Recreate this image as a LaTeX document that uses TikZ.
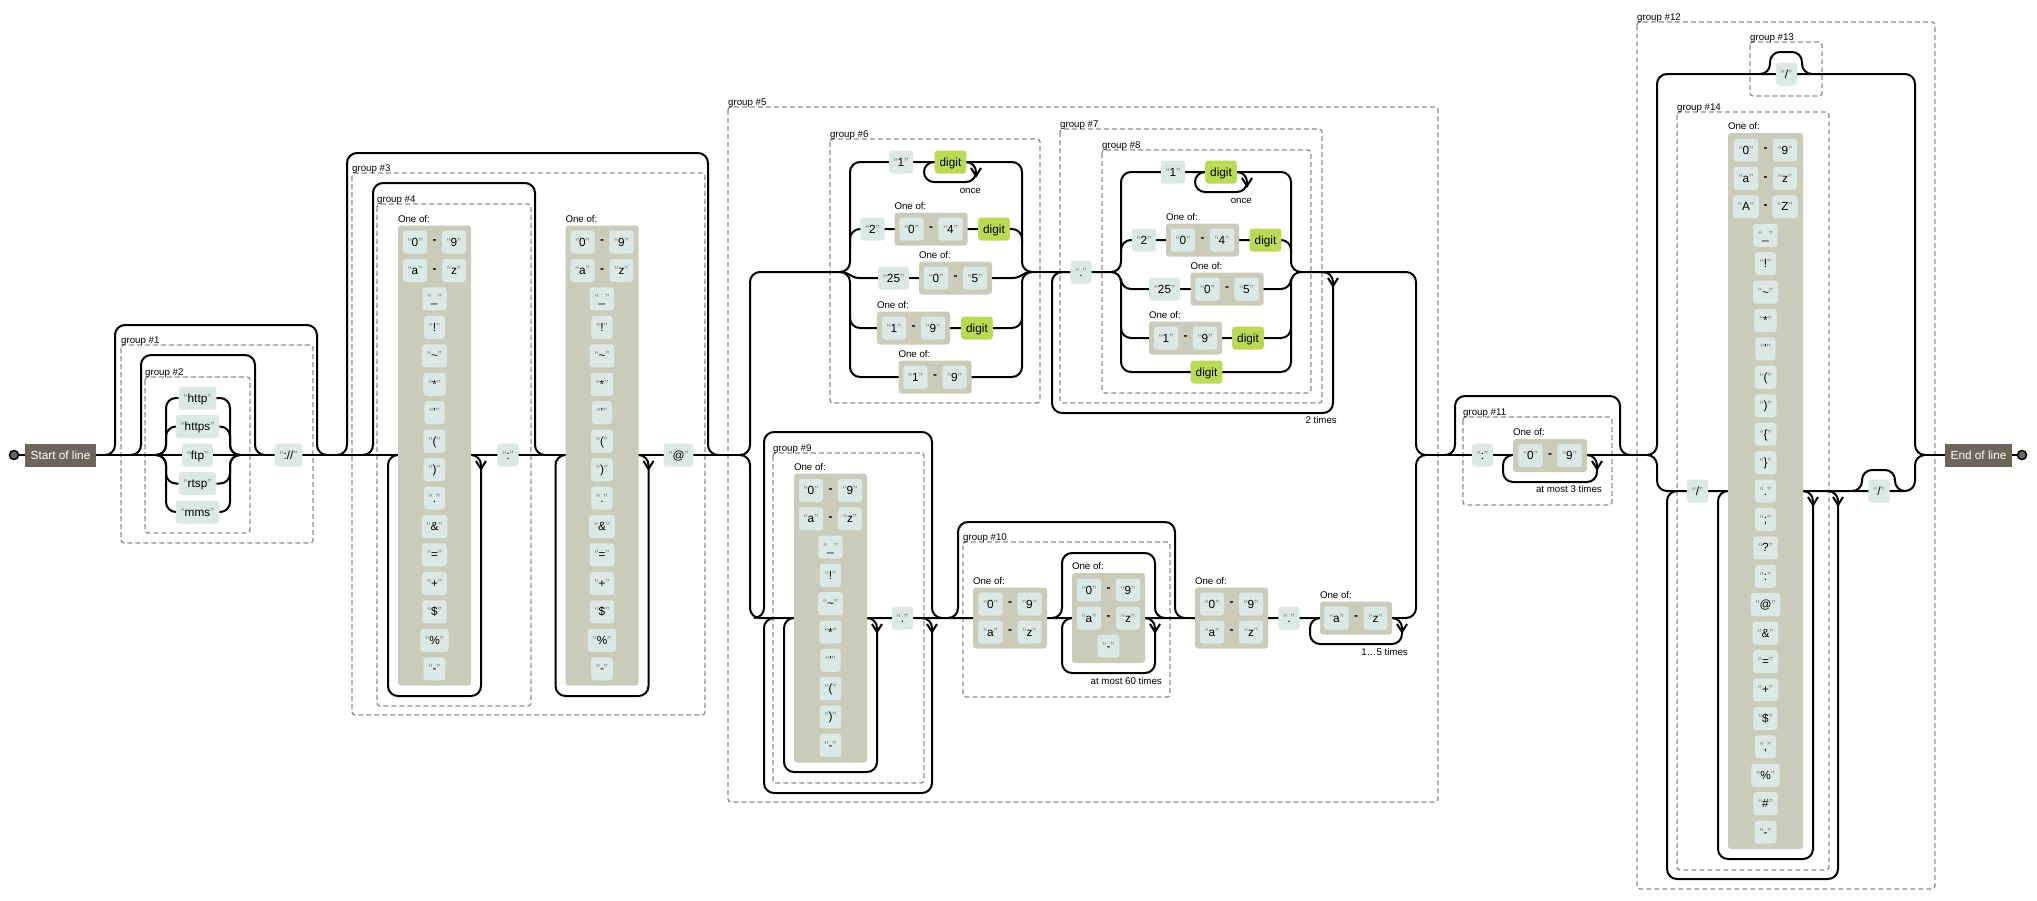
\documentclass[tikz,border=0pt]{standalone}
\usepackage{fontspec}
\setmainfont{Liberation Sans}
\definecolor{litc}{HTML}{DAE9E5}
\definecolor{csetc}{HTML}{CBCBBA}
\definecolor{escc}{HTML}{BADA55}
\definecolor{anchc}{HTML}{6B6659}
\definecolor{grpc}{HTML}{908C83}
\definecolor{quotec}{HTML}{908C83}
\pgfdeclarelayer{paper}
\pgfdeclarelayer{groups}
\pgfdeclarelayer{rails}
\pgfsetlayers{paper,groups,rails,main}
\newcommand\q[1]{{\color{quotec}“}#1{\color{quotec}”}}
\newcommand\rfont{\fontsize{11.8}{13}\selectfont}
\newcommand\sfont{\fontsize{9.7}{11}\selectfont}
\tikzset{
  rail/.style={line width=2pt, rounded corners=10pt},
  grp/.style={draw=grpc, line width=1.3pt, dash pattern=on 5pt off 3pt, rounded corners=3pt},
  glab/.style={anchor=base west, inner sep=0pt, font=\sfont},
  llab/.style={anchor=base east, inner sep=0pt, font=\sfont},
  boxbase/.style={rounded corners=3pt, minimum height=23pt, inner xsep=5pt, inner ysep=0pt, text height=8.5pt, text depth=0.5pt, font=\rfont},
  lit/.style={boxbase, fill=litc},
  esc/.style={boxbase, fill=escc},
  anc/.style={boxbase, fill=anchc, text=white, rounded corners=0pt, inner xsep=6pt},
  csetbox/.style={fill=csetc, rounded corners=3pt, inner sep=0pt},
  hyph/.style={inner sep=0pt, font=\rfont\bfseries},
  term/.style={circle, draw=black, line width=1.5pt, fill=anchc, minimum size=9pt, inner sep=0pt},
  chev/.style={line width=2pt},
}
\newcommand\csbox[5]{%
  \node[csetbox, minimum width=#4pt, minimum height=#5pt] (#1) at (#2,#3) {};
  \path (#1.north west) ++(0,-3) node[glab] {One of:};}
\newcommand\rng[5]{%
  \node[lit] (#1a) at ({#2-19.5},#3) {\q{#4}};
  \node[hyph] (#1m) at (#2,#3) {-};
  \node[lit] (#1b) at ({#2+19.5},#3) {\q{#5}};}
\newcommand\darr[2]{\draw[chev] ({#1-5},{#2-8}) -- (#1,#2) -- ({#1+5},{#2-8});}
\begin{document}
\begin{tikzpicture}[x=1pt,y=-1pt]
\begin{pgfonlayer}{paper}
\fill[white] (0,0) rectangle (2037,900);
\end{pgfonlayer}
\useasboundingbox (0,0) rectangle (2037,900);

% ---------------- group boxes
\begin{pgfonlayer}{groups}
\draw[grp] (121,345) rectangle (313,543);
\draw[grp] (145,377) rectangle (250,533);
\draw[grp] (352,173) rectangle (705,715);
\draw[grp] (377,204) rectangle (531,706);
\draw[grp] (728,107) rectangle (1438,802);
\draw[grp] (830,139) rectangle (1040,403);
\draw[grp] (1060,129) rectangle (1322,403);
\draw[grp] (1102,150) rectangle (1311,393);
\draw[grp] (773,453) rectangle (924,783);
\draw[grp] (963,542) rectangle (1170,697);
\draw[grp] (1463,417) rectangle (1612,505);
\draw[grp] (1637,22) rectangle (1935,889);
\draw[grp] (1750,42) rectangle (1822,96);
\draw[grp] (1677,112) rectangle (1829,870);
\end{pgfonlayer}
\node[glab] at (121,343) {group \#1};
\node[glab] at (145,375) {group \#2};
\node[glab] at (352,171) {group \#3};
\node[glab] at (377,202) {group \#4};
\node[glab] at (728,105) {group \#5};
\node[glab] at (830,137) {group \#6};
\node[glab] at (1060,127) {group \#7};
\node[glab] at (1102,148) {group \#8};
\node[glab] at (773,451) {group \#9};
\node[glab] at (963,540) {group \#10};
\node[glab] at (1463,415) {group \#11};
\node[glab] at (1637,20) {group \#12};
\node[glab] at (1750,40) {group \#13};
\node[glab] at (1677,110) {group \#14};

% ---------------- start / end
\node[term] (sc) at (14,455) {};
\node[anc] (start) at (60.5,455) {Start of line};
\node[anc] (endl) at (1978.5,455) {End of line};
\node[term] (ec) at (2022,455) {};

% ---------------- groups 1,2
\node[lit] (http) at (197.5,398) {\q{http}};
\node[lit] (https) at (197.5,426.5) {\q{https}};
\node[lit] (ftp) at (197.5,455) {\q{ftp}};
\node[lit] (rtsp) at (197.5,483.5) {\q{rtsp}};
\node[lit] (mms) at (197.5,512) {\q{mms}};
\node[lit] (proto) at (288.5,455) {\q{://}};

% ---------------- groups 3,4
\csbox{csa}{434.5}{455.5}{73}{460}
\csbox{csb}{602}{455.5}{73}{460}
\rng{csar0}{434.5}{242}{0}{9}
\rng{csar1}{434.5}{270.45}{a}{z}
\rng{csbr0}{602}{242}{0}{9}
\rng{csbr1}{602}{270.45}{a}{z}
\foreach \itm [count=\i from 2] in {{\_},{!},{\textasciitilde},{*},{\textquotesingle},{(},{)},{.},{\&},{=},{+},{\$},{\%},{-}}{
  \node[lit] (csai\i) at (434.5,{242+28.45*\i}) {\q{\itm}};
  \node[lit] (csbi\i) at (602,{242+28.45*\i}) {\q{\itm}};
}
\node[lit] (colon1) at (508,455) {\q{:}};
\node[lit] (at) at (678.5,455) {\q{@}};

% ---------------- group 6
\node[lit] (g6one) at (901,162) {\q{1}};
\node[esc] (g6d1) at (950.5,162) {digit};
\node[lit] (g6two) at (872.5,229) {\q{2}};
\csbox{g6c2}{931}{229}{73}{33}
\rng{g6r2}{931}{229}{0}{4}
\node[esc] (g6d2) at (994,229) {digit};
\node[lit] (g6tf) at (893.5,278) {\q{25}};
\csbox{g6c3}{955.5}{278}{73}{33}
\rng{g6r3}{955.5}{278}{0}{5}
\csbox{g6c4}{913.5}{328}{73}{33}
\rng{g6r4}{913.5}{328}{1}{9}
\node[esc] (g6d4) at (977,328) {digit};
\csbox{g6c5}{935}{377}{73}{33}
\rng{g6r5}{935}{377}{1}{9}
\node[llab] at (981,193) {once};

% ---------------- groups 7,8
\node[lit] (dot1) at (1081,272) {\q{.}};
\node[lit] (g8one) at (1173,172) {\q{1}};
\node[esc] (g8d1) at (1221,172) {digit};
\node[lit] (g8two) at (1144,240) {\q{2}};
\csbox{g8c2}{1202.5}{240}{73}{33}
\rng{g8r2}{1202.5}{240}{0}{4}
\node[esc] (g8d2) at (1265.5,240) {digit};
\node[lit] (g8tf) at (1164.5,289) {\q{25}};
\csbox{g8c3}{1227}{289}{73}{33}
\rng{g8r3}{1227}{289}{0}{5}
\csbox{g8c4}{1185.5}{338}{73}{33}
\rng{g8r4}{1185.5}{338}{1}{9}
\node[esc] (g8d4) at (1248,338) {digit};
\node[esc] (g8d5) at (1206.5,372) {digit};
\node[llab] at (1252,203) {once};
\node[llab] at (1337,423) {2 times};

% ---------------- group 9
\csbox{g9c}{830.5}{618}{73}{289}
\rng{g9r0}{830.5}{490.5}{0}{9}
\rng{g9r1}{830.5}{518.8}{a}{z}
\foreach \itm [count=\i from 2] in {{\_},{!},{\textasciitilde},{*},{\textquotesingle},{(},{)},{-}}{
  \node[lit] (g9i\i) at (830.5,{490.5+28.3*\i}) {\q{\itm}};
}
\node[lit] (dot2) at (902.5,618) {\q{.}};

% ---------------- group 10 and rest of host
\csbox{g10c1}{1010}{618}{74}{61}
\rng{g10r1}{1010}{604}{0}{9}
\rng{g10r2}{1010}{632}{a}{z}
\csbox{g10c2}{1108.5}{618}{73}{90}
\rng{g10r3}{1108.5}{590}{0}{9}
\rng{g10r4}{1108.5}{618}{a}{z}
\node[lit] (g10hy) at (1108.5,646) {\q{-}};
\node[llab] at (1162,684) {at most 60 times};
\csbox{hc3}{1231.5}{618}{73}{61}
\rng{hr1}{1231.5}{604}{0}{9}
\rng{hr2}{1231.5}{632}{a}{z}
\node[lit] (dot3) at (1289,618) {\q{.}};
\csbox{hc4}{1356}{618}{72}{33}
\rng{hr3}{1356}{618}{a}{z}
\node[llab] at (1408,655) {1…5 times};

% ---------------- group 11
\node[lit] (colon2) at (1482.5,455) {\q{:}};
\csbox{g11c}{1550}{455.5}{74}{33}
\rng{g11r}{1550}{455.5}{0}{9}
\node[llab] at (1602,492) {at most 3 times};

% ---------------- groups 12,13,14
\node[lit] (sl1) at (1786.5,74) {\q{/}};
\node[lit] (sl2) at (1697.5,491) {\q{/}};
\csbox{g14c}{1765.5}{491}{75}{716}
\rng{g14r0}{1765.5}{150}{0}{9}
\rng{g14r1}{1765.5}{178.42}{a}{z}
\rng{g14r2}{1765.5}{206.84}{A}{Z}
\foreach \itm [count=\i from 3] in {{\_},{!},{\textasciitilde},{*},{\textquotesingle},{(},{)},{\{},{\}},{.},{;},{?},{:},{@},{\&},{=},{+},{\$},{,},{\%},{\#},{-}}{
  \node[lit] (g14i\i) at (1765.5,{150+28.42*\i}) {\q{\itm}};
}
\node[lit] (sl3) at (1879,491) {\q{/}};

% ---------------- rails
\begin{pgfonlayer}{rails}
\draw[rail] (sc.east) -- (740,455);
\draw[rail] (105,455) -- (115,455) -- (115,325) -- (317,325) -- (317,455) -- (327,455);
\draw[rail] (131,455) -- (141,455) -- (141,355) -- (255,355) -- (255,455) -- (265,455);
\foreach \n in {http,https,rtsp,mms}{
  \draw[rail] (156,455) -- (166,455) |- (\n.west);
  \draw[rail] (\n.east) -| (230,455) -- (240,455);
}
\draw[rail] (337,455) -- (347,455) -- (347,153) -- (708,153) -- (708,455) -- (718,455);
\draw[rail] (363,455) -- (373,455) -- (373,183) -- (535,183) -- (535,455) -- (545,455);
\draw[rail] (471,455) -- (481,455) -- (481,696) -- (388,696) -- (388,455) -- (398,455);
\darr{481}{469}
\draw[rail] (638.5,455) -- (648.5,455) -- (648.5,696) -- (555.5,696) -- (555.5,455) -- (565.5,455);
\darr{648.5}{469}
% upper branch of group 5
\draw[rail] (740,455) -- (750,455) -- (750,272) -- (850,272) -- (850,162) -- (1022,162) -- (1022,272) -- (1121,272) -- (1121,172) -- (1291,172) -- (1291,272) -- (1416,272) -- (1416,455) -- (1426,455);
\draw[rail] (840,272) -- (850,272) -- (850,377) -- (1022,377) -- (1022,272) -- (1032,272);
\draw[rail] (850,245) -- (850,229) -- (1022,229) -- (1022,245);
\draw[rail, sharp corners] (840,272) .. controls (850,272) and (850,278) .. (860,278) -- (1012,278) .. controls (1022,278) and (1022,272) .. (1032,272);
\draw[rail] (850,318) -- (850,328) -- (1022,328) -- (1022,318);
\draw[rail] (966,162) -- (976,162) -- (976,182) -- (924,182) -- (924,162) -- (935,162);
\darr{976}{176}
\draw[rail] (1111,272) -- (1121,272) -- (1121,372) -- (1291,372) -- (1291,272) -- (1301,272);
\draw[rail] (1121,252) -- (1121,240) -- (1291,240) -- (1291,252);
\draw[rail] (1121,279) -- (1121,289) -- (1291,289) -- (1291,279);
\draw[rail] (1121,328) -- (1121,338) -- (1291,338) -- (1291,328);
\draw[rail] (1237,172) -- (1247,172) -- (1247,192) -- (1195,192) -- (1195,172) -- (1205,172);
\darr{1247}{186}
\draw[rail] (1323,272) -- (1333,272) -- (1333,413) -- (1052,413) -- (1052,272) -- (1062,272);
\darr{1333}{286}
% lower branch of group 5
\draw[rail] (740,455) -- (750,455) -- (750,618) -- (1416,618) -- (1416,455) -- (1426,455);
\draw[rail] (754,618) -- (764,618) -- (764,432) -- (932,432) -- (932,618) -- (942,618);
\draw[rail] (922,618) -- (932,618) -- (932,793) -- (764,793) -- (764,618) -- (774,618);
\darr{932}{632}
\draw[rail] (867,618) -- (877,618) -- (877,772) -- (784,772) -- (784,618) -- (794,618);
\darr{877}{632}
\draw[rail] (948,618) -- (958,618) -- (958,522) -- (1175,522) -- (1175,618) -- (1185,618);
\draw[rail] (1052,618) -- (1062,618) -- (1062,553) -- (1155,553) -- (1155,618) -- (1165,618);
\draw[rail] (1145,618) -- (1155,618) -- (1155,673) -- (1062,673) -- (1062,618) -- (1072,618);
\darr{1155}{632}
\draw[rail] (1392,618) -- (1402,618) -- (1402,644) -- (1310,644) -- (1310,618) -- (1320,618);
\darr{1402}{632}
% group 11
\draw[rail] (1426,455) -- (1647,455);
\draw[rail] (1445,455) -- (1455,455) -- (1455,396) -- (1620,396) -- (1620,455) -- (1630,455);
\draw[rail] (1587,455) -- (1597,455) -- (1597,482) -- (1503,482) -- (1503,455) -- (1513,455);
\darr{1597}{469}
% group 12
\draw[rail] (1647,455) -- (1657,455) -- (1657,74) -- (1915,74) -- (1915,455) -- (1925,455);
\draw[rail] (1647,455) -- (1657,455) -- (1657,491) -- (1915,491) -- (1915,455) -- (1925,455);
\draw[rail] (1760,74) -- (1770,74) -- (1770,52) -- (1802,52) -- (1802,74) -- (1812,74);
\draw[rail] (1828,491) -- (1838,491) -- (1838,879) -- (1667,879) -- (1667,491) -- (1677,491);
\darr{1838}{505}
\draw[rail] (1803,491) -- (1813,491) -- (1813,859) -- (1718,859) -- (1718,491) -- (1728,491);
\darr{1813}{505}
\draw[rail] (1852,491) -- (1862,491) -- (1862,470) -- (1895,470) -- (1895,491) -- (1905,491);
\draw[rail] (1925,455) -- (ec.west);
\end{pgfonlayer}
\end{tikzpicture}
\end{document}
